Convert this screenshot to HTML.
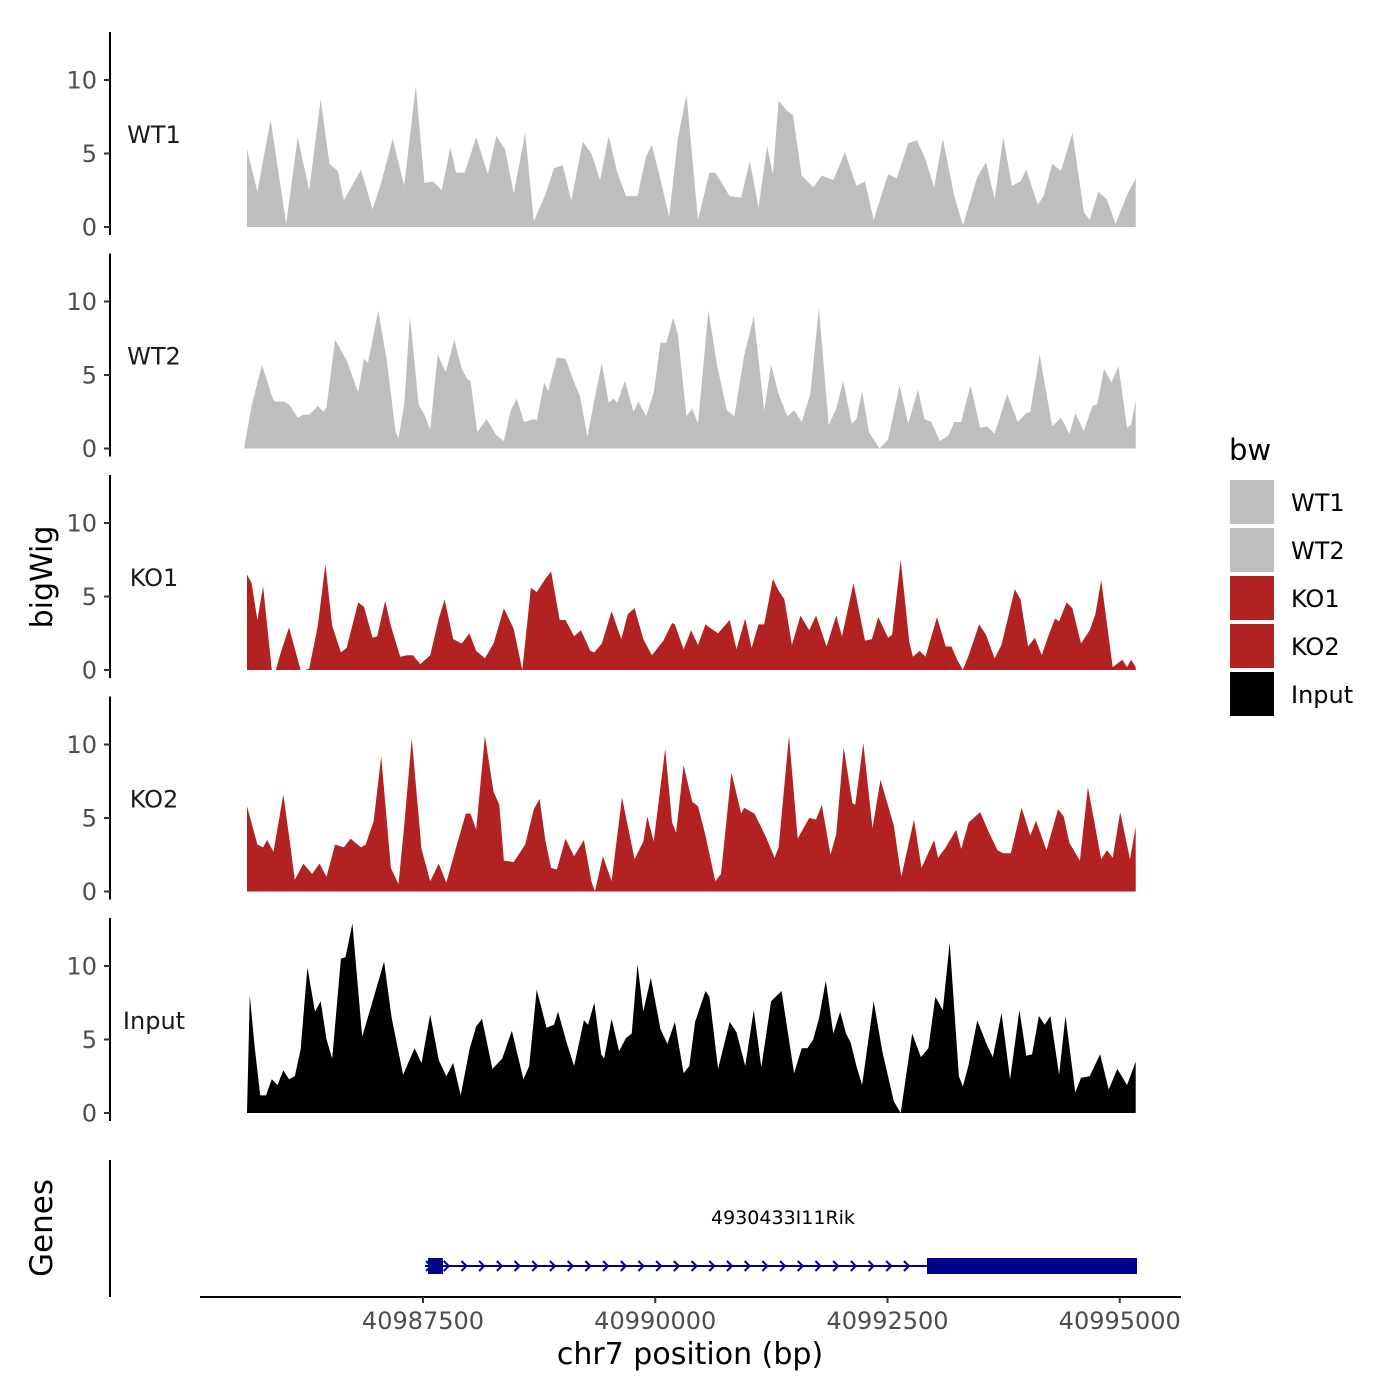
<!DOCTYPE html>
<html><head><meta charset="utf-8"><style>
html,body{margin:0;padding:0;background:#fff;}
svg{display:block;font-family:"DejaVu Sans","Liberation Sans",sans-serif;}
</style></head><body>
<svg id="chart" width="1400" height="1400" viewBox="0 0 1400 1400" xmlns="http://www.w3.org/2000/svg">
<rect width="1400" height="1400" fill="#fff"/>
<g id="tracks"></g>
<text x="0" y="0" transform="translate(52,577) rotate(-90)" text-anchor="middle" font-size="30" fill="#000">bigWig</text>
<text x="0" y="0" transform="translate(52,1228) rotate(-90)" text-anchor="middle" font-size="31" fill="#000">Genes</text>
<line x1="110" y1="1160" x2="110" y2="1297" stroke="#000" stroke-width="2"/>
<line x1="200" y1="1297" x2="1181" y2="1297" stroke="#000" stroke-width="2"/>
<g id="xaxis"></g>
<text x="690" y="1364" text-anchor="middle" font-size="30" fill="#000">chr7 position (bp)</text>
<g id="genes"></g>
<g id="legend">
<text x="1229" y="460" font-size="29" fill="#000">bw</text>
</g>
</svg>
<script>
const regionStart = 40985531;
const xTicks = [40987500, 40990000, 40992500, 40995000];
const yTicks = [0, 5, 10];
const trackNames = ["WT1", "WT2", "KO1", "KO2", "Input"];
const trackColors = ["#BEBEBE", "#BEBEBE", "#B22222", "#B22222", "#000000"];

const wt1Off = [75,186,329,496,620,744,868,961,1054,1116,1178,1302,1426,1519,1643,1767,1891,1984,2077,2170,2263,2325,2418,2542,2666,2759,2852,2945,3069,3162,3286,3379,3472,3565,3689,3782,3875,3968,4061,4154,4278,4371,4433,4526,4619,4712,4805,4929,5053,5115,5270,5394,5487,5580,5673,5735,5797,5890,5952,6045,6169,6262,6386,6510,6634,6727,6820,6975,7068,7192,7285,7378,7471,7564,7688,7781,7936,8029,8122,8215,8308,8401,8463,8587,8649,8742,8835,8959,9083,9145,9238,9331,9424,9548,9641];
const wt1Val = [5.3,2.4,7.3,0.2,6.1,2.5,8.7,4.3,3.8,1.8,2.5,3.9,1.2,3.0,6.0,2.8,9.6,3.0,3.1,2.5,5.4,3.7,3.7,6.1,3.6,6.2,5.3,2.3,6.4,0.4,2.2,4.0,4.2,1.8,5.8,5.0,3.2,6.2,3.7,2.1,2.1,4.8,5.6,3.2,0.7,6.0,9.0,0.5,3.7,3.7,2.1,2.0,4.5,1.3,5.5,3.6,8.6,7.9,7.6,3.5,2.7,3.5,3.2,5.1,2.8,3.1,0.5,3.6,3.3,5.7,5.9,4.6,2.7,6.0,2.1,0.1,3.4,4.4,1.9,6.1,2.8,3.1,3.9,1.5,2.1,4.3,3.8,6.4,1.0,0.5,2.4,1.9,0.2,2.2,3.3];

const wt2Off = [43,124,236,341,372,465,527,620,682,744,837,899,930,1023,1147,1271,1333,1376,1488,1581,1674,1705,1767,1829,1922,1984,2046,2127,2213,2306,2387,2449,2480,2554,2654,2759,2840,2914,2976,3057,3162,3193,3274,3317,3410,3503,3596,3658,3739,3813,3894,3968,4018,4061,4142,4235,4290,4371,4452,4526,4588,4662,4712,4805,4867,4929,5041,5134,5239,5320,5425,5530,5642,5716,5797,5890,5964,6045,6138,6231,6336,6417,6491,6584,6634,6696,6770,6882,6975,7099,7192,7297,7366,7440,7533,7626,7688,7762,7862,7967,8041,8122,8258,8370,8463,8506,8606,8742,8835,8928,8990,9083,9176,9226,9300,9381,9455,9548,9591,9641];
const wt2Val = [0,2.9,5.7,3.6,3.2,3.2,3.0,2.1,2.3,2.3,2.9,2.5,2.8,7.4,6.0,3.8,6.1,5.8,9.4,5.9,1.1,0.7,3.0,9.0,3.0,2.3,1.3,6.4,5.2,7.4,5.4,4.7,4.6,1.1,2.0,0.9,0.5,2.6,3.4,1.8,2.0,1.9,4.5,3.9,6.2,6.1,4.5,3.6,0.8,3.3,5.8,3.1,3.4,3.1,4.6,2.5,3.2,2.2,3.8,7.2,7.2,8.9,7.8,2.2,2.7,1.7,9.4,5.7,2.6,2.2,6.3,9.0,2.6,5.7,3.7,2.2,2.6,1.8,3.7,9.6,1.6,2.7,4.6,1.7,2.0,3.9,1.1,0,0.6,4.3,1.7,4.0,2.0,1.8,0.5,0.9,1.8,1.8,4.3,1.4,1.5,1.0,3.7,1.8,2.4,2.5,6.4,1.5,2.1,1.0,2.4,1.2,2.9,3.0,5.4,4.5,5.6,1.4,1.6,3.3];

const ko1Off = [74,124,186,248,341,384,434,527,651,701,744,837,918,992,1085,1147,1271,1333,1426,1476,1562,1624,1724,1798,1860,1941,2046,2139,2201,2294,2387,2468,2542,2635,2728,2840,2945,3038,3131,3193,3286,3348,3441,3503,3596,3670,3770,3813,3894,3999,4104,4173,4247,4340,4433,4557,4650,4681,4774,4855,4929,5010,5072,5146,5270,5344,5437,5506,5580,5642,5735,5797,5859,5940,6033,6126,6200,6312,6417,6479,6603,6727,6801,6870,6975,7018,7111,7204,7242,7316,7378,7502,7595,7657,7719,7781,7843,7955,8029,8122,8196,8339,8401,8482,8556,8630,8699,8773,8816,8897,8959,9052,9145,9207,9269,9393,9498,9548,9591,9641];
const ko1Val = [6.5,5.9,3.4,5.7,0,0,1.1,2.9,0,0,0.1,3.0,7.2,3.0,1.2,1.5,4.6,4.3,2.2,2.3,4.7,3.0,0.9,1.0,1.0,0.4,1.0,3.5,4.8,2.1,1.8,2.5,1.3,0.8,1.8,4.2,2.8,0,5.6,5.3,6.2,6.7,3.4,3.4,2.3,2.7,1.3,1.2,1.8,4.0,2.1,3.8,4.2,2.1,1.0,2.0,3.2,3.1,1.4,2.7,1.7,3.1,2.8,2.5,3.4,1.4,3.5,1.5,3.1,3.1,6.2,5.4,4.8,1.7,3.7,2.7,3.7,1.6,3.7,2.3,5.9,2.0,2.1,3.6,2.2,2.4,7.5,1.9,0.9,1.3,0.9,3.6,1.6,1.6,0.7,0,1.0,3.1,2.4,0.8,1.7,5.5,4.8,1.6,2.2,1.0,2.3,3.5,3.3,4.6,4.2,1.8,2.7,3.8,6.1,0.2,0.7,0.2,0.7,0.2];

const ko2Off = [74,186,248,291,360,465,527,589,682,775,856,930,1023,1116,1190,1302,1352,1438,1519,1624,1705,1767,1848,1953,2046,2139,2220,2325,2430,2480,2542,2635,2728,2790,2840,2945,3069,3162,3224,3286,3348,3410,3503,3596,3701,3782,3819,3906,3999,4111,4247,4340,4383,4452,4576,4650,4693,4774,4867,4929,5010,5115,5177,5289,5394,5425,5537,5654,5754,5797,5909,6002,6126,6200,6262,6355,6417,6498,6591,6622,6708,6808,6894,7037,7118,7254,7335,7471,7514,7595,7707,7762,7843,7967,8048,8153,8215,8296,8413,8506,8568,8680,8804,8866,8928,9040,9126,9269,9331,9393,9474,9579,9641];
const ko2Val = [5.8,3.2,3.0,3.5,2.7,6.6,3.8,0.8,1.9,1.2,1.9,1.0,3.2,3.0,3.6,3.0,3.2,4.8,9.2,1.6,0.5,4.5,10.4,2.9,0.7,1.9,0.6,3.0,5.3,5.3,4.2,10.6,6.8,5.9,2.1,2.0,3.2,5.6,6.3,3.5,1.6,1.5,3.6,2.4,3.5,0.7,0,2.4,0.7,6.4,2.2,3.4,5.1,3.4,9.7,4.7,4.0,8.6,6.1,5.8,3.8,0.7,1.2,8.1,5.3,5.7,5.3,3.8,2.3,3.0,10.6,3.6,5.0,4.9,5.9,2.5,3.9,9.8,6.0,5.9,10.1,4.3,7.6,4.5,1.0,4.9,1.6,3.5,2.3,3.0,4.2,2.9,4.7,5.4,4.2,2.8,2.6,2.6,5.7,3.8,4.8,2.8,5.6,5.1,3.3,2.1,7.1,2.2,2.8,2.3,5.4,2.2,4.4];

const inputOff = [74,105,155,217,279,341,403,465,527,589,651,725,806,868,930,992,1085,1135,1209,1314,1426,1550,1631,1755,1879,1953,2046,2139,2220,2294,2375,2468,2542,2604,2716,2821,2926,3050,3112,3193,3298,3379,3422,3515,3596,3701,3745,3813,3887,3918,3999,4080,4154,4216,4278,4340,4421,4526,4600,4681,4774,4836,4898,5010,5053,5146,5270,5344,5437,5530,5611,5716,5828,5964,6045,6107,6169,6231,6305,6386,6460,6522,6572,6634,6696,6820,6913,7037,7111,7235,7328,7409,7483,7564,7638,7738,7781,7843,7936,8041,8103,8196,8289,8389,8463,8525,8599,8661,8723,8816,8885,8990,9052,9145,9257,9350,9443,9548,9641];
const inputVal = [0,8.0,4.6,1.2,1.2,2.3,1.9,2.9,2.3,2.5,4.3,9.9,6.9,7.6,5.0,3.7,10.5,10.6,12.9,5.2,7.6,10.3,6.5,2.6,4.4,3.4,6.7,3.6,2.5,3.4,1.2,4.3,5.9,6.4,3.0,3.7,5.6,2.3,3.2,8.4,5.8,6.0,6.9,4.8,3.2,6.3,6.0,7.5,4.0,3.7,6.4,4.2,5.1,5.4,10.1,6.9,9.2,5.7,4.7,6.2,2.7,3.2,6.2,8.3,7.9,3.0,6.2,5.5,3.2,7.0,3.1,7.6,8.3,2.7,4.4,4.4,5.0,6.4,9.0,5.4,6.9,5.4,4.8,3.2,1.9,7.6,4.2,0.8,0,5.4,3.8,4.4,7.9,7.0,11.6,2.5,1.8,3.3,6.3,4.6,3.8,6.8,2.3,7.0,3.9,4.0,6.6,6.0,6.6,2.6,6.6,1.4,2.4,2.5,4.0,1.6,3.0,1.9,3.5];

const geneName = "4930433I11Rik";
const geneStart = 40987522;
const geneEnd = 40995186;
const exon1 = [40987554, 40987715];
const exon2 = [40992925, 40995186];

const NS = "http://www.w3.org/2000/svg";
function xScale(bp){ return 423 + (bp - 40987500) * 0.0929; }
const trackBase = [227, 448.5, 670, 891.5, 1113];
const unitPx = 14.7;
function yScale(track, v){ return trackBase[track] - v * unitPx; }
function mk(tag, attrs, parent){
  const e = document.createElementNS(NS, tag);
  for (const k in attrs) e.setAttribute(k, attrs[k]);
  parent.appendChild(e);
  return e;
}

const offs = [wt1Off, wt2Off, ko1Off, ko2Off, inputOff];
const vals = [wt1Val, wt2Val, ko1Val, ko2Val, inputVal];
const tracksG = document.getElementById("tracks");
for (let t = 0; t < 5; t++) {
  const g = mk("g", {}, tracksG);
  
  
  const off = offs[t], val = vals[t];
  const base = trackBase[t];
  let d = "M" + xScale(regionStart + off[0]).toFixed(1) + "," + base;
  for (let i = 0; i < off.length; i++) {
    d += "L" + xScale(regionStart + off[i]).toFixed(1) + "," + yScale(t, val[i]).toFixed(1);
  }
  d += "L" + xScale(regionStart + off[off.length - 1]).toFixed(1) + "," + base + "Z";
  const area = mk("path", {d: d, fill: trackColors[t]}, g);
  
  
  const ax = mk("line", {x1: 110, y1: base - 195, x2: 110, y2: base + 8, stroke: "#000", "stroke-width": 2}, g);
  
  
  for (const tv of yTicks) {
    const y = yScale(t, tv);
    const tk = mk("line", {x1: 104, y1: y, x2: 110, y2: y, stroke: "#333", "stroke-width": 2}, g);
    
    
    const lb = mk("text", {x: 97, y: y + 8.5, "text-anchor": "end", "font-size": 24, fill: "#4d4d4d"}, g);
    lb.textContent = tv;
    
    
  }
  const nm = mk("text", {x: 154, y: base - 84, "text-anchor": "middle", "font-size": 24, fill: "#1a1a1a"}, g);
  nm.textContent = trackNames[t];
  
  
}

const xg = document.getElementById("xaxis");
for (const tv of xTicks) {
  const x = xScale(tv);
  const tk = mk("line", {x1: x, y1: 1297, x2: x, y2: 1303, stroke: "#333", "stroke-width": 2}, xg);
  
  
  const lb = mk("text", {x: x, y: 1329, "text-anchor": "middle", "font-size": 24, fill: "#4d4d4d"}, xg);
  lb.textContent = tv;
  
  
}

const gg = document.getElementById("genes");
const gx1 = xScale(geneStart), gx2 = xScale(geneEnd);
const gl = mk("line", {x1: gx1, y1: 1266, x2: gx2, y2: 1266, stroke: "#00008B", "stroke-width": 2}, gg);


for (let x = gx1 + 4; x < xScale(exon2[0]) - 4; x += 17.7) {
  const ch = mk("path", {d: "M" + (x - 3) + ",1261L" + (x + 2) + ",1266L" + (x - 3) + ",1271", fill: "none", stroke: "#00008B", "stroke-width": 2}, gg);
  
  
}
const e1 = mk("rect", {x: xScale(exon1[0]), y: 1258, width: xScale(exon1[1]) - xScale(exon1[0]), height: 16, fill: "#00008B"}, gg);


const e2 = mk("rect", {x: xScale(exon2[0]), y: 1258, width: xScale(exon2[1]) - xScale(exon2[0]), height: 16, fill: "#00008B"}, gg);


const gn = mk("text", {x: 783, y: 1224, "text-anchor": "middle", "font-size": 19, fill: "#000"}, gg);
gn.textContent = geneName;



const lg = document.getElementById("legend");
for (let t = 0; t < 5; t++) {
  const y = 480 + t * 48;
  const k = mk("rect", {x: 1230, y: y, width: 44, height: 44, fill: trackColors[t]}, lg);
  
  
  const lb = mk("text", {x: 1291, y: y + 31, "font-size": 24, fill: "#000"}, lg);
  lb.textContent = trackNames[t];
  
  
}
</script>
</body></html>
